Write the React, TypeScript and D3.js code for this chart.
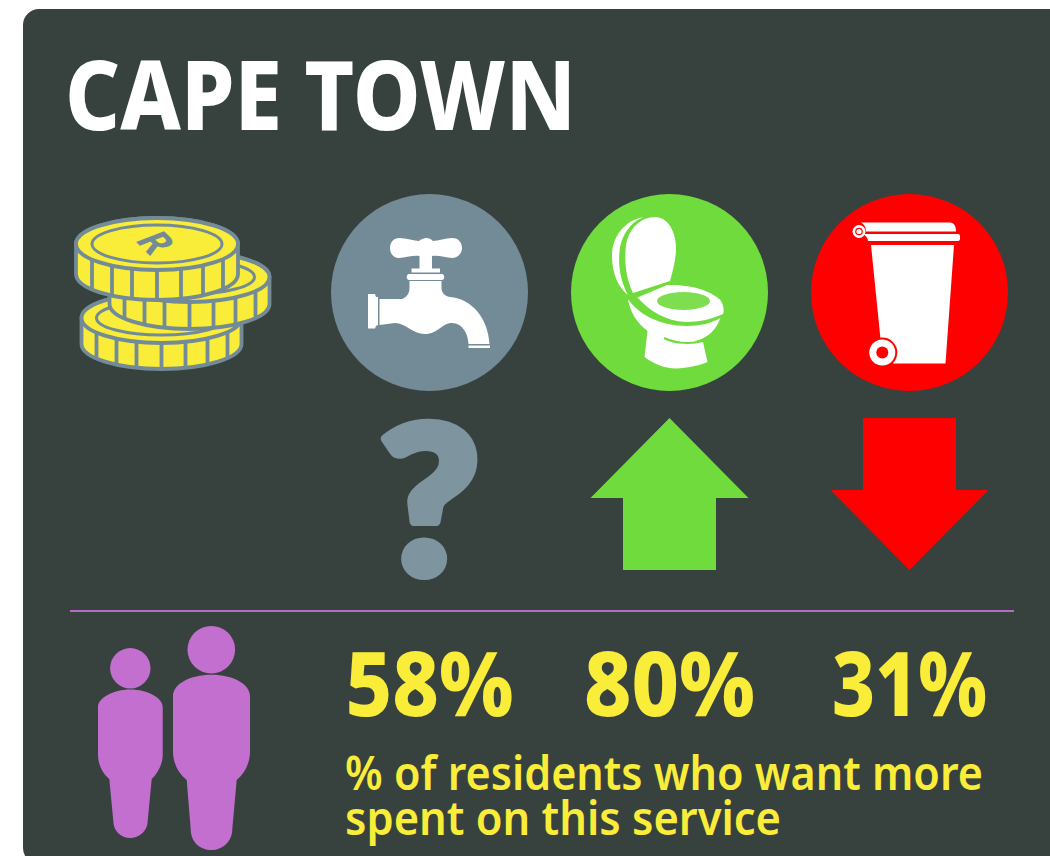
import React from "react";
import * as d3 from "d3";

const services = ["water", "sanitation", "refuse"];
const shares = [58, 80, 31];
const directions = ["unknown", "up", "down"];
const title = "CAPE TOWN";
const captionLines = ["% of residents who want more", "spent on this service"];

const PANEL = "#37423f";
const STEEL = "#738b96";
const GREEN = "#70db3c";
const RED = "#ff0000";
const PURPLE = "#c36fcf";
const YELLOW = "#f9ed3a";
const FONT = "'Noto Sans', 'Open Sans', sans-serif";

const x = d3.scalePoint<string>().domain(services).range([429.5, 909.5]);
const shareWidths = [168, 171, 155];

function Coin({ cx, cy, rx, ry, h, ridges, inner }: any) {
  const body = `M${cx - rx},${cy} L${cx - rx},${cy + h} A${rx},${ry} 0 0 0 ${cx + rx},${cy + h} L${cx + rx},${cy} A${rx},${ry} 0 0 0 ${cx - rx},${cy} Z`;
  return (
    <g fill={YELLOW} stroke={STEEL} strokeWidth={3.8}>
      <path d={body} strokeLinejoin="round" />
      {ridges.map((o: number) => {
        const y = cy + ry * Math.sqrt(1 - (o / rx) ** 2);
        return <line key={o} x1={cx + o} x2={cx + o} y1={y} y2={y + h} />;
      })}
      <ellipse cx={cx} cy={cy} rx={rx} ry={ry} />
      {inner && <ellipse cx={cx} cy={cy} rx={inner[0]} ry={inner[1]} strokeWidth={3} />}
    </g>
  );
}

const ridgeOffsets = [-65, -45, -25, 0, 24, 46, 66];

const tapPath =
  "M399,238 C407,238 414,241 419,241 C422,238 429,236 433,241 C438,241 446,238 452,238 C459,238 462,243 462,248 C462,254 457,258 452,258 C446,258 439,255 432,256 L432,268.5 L440,268.5 L440,272.5 L411.5,272.5 L411.5,268.5 L419.5,268.5 L419.5,256 C413,255 405,258 399,258 C394,258 390,254 390,248 C390,242 394,238 399,238 Z " +
  "M409,274 L442,274 C445,274 445,280 442,280 L409,280 C406,280 406,274 409,274 Z " +
  "M409.5,281 L441.5,281 L441.5,288 C441.5,292 444,296 450,297 C472,299 488,318 489.5,344 L468.5,344 C468,333 462,323 452,323 C442,323 438,334 425,334 C412,334 406,323 395,323 L379.5,325 L379.5,299 L402,299 C407,297 409.5,293 409.5,288 Z " +
  "M368,294 L375,294 L376,297 L378,297 L378,325 L376,326 L375,328.5 L368,328.5 Z " +
  "M468.5,345.5 L490,345.5 L490,348 L468.5,348 Z";

const toiletLid = "M633,293 C626,278 624,262 626,245 C629,228 641,217 655,217 C668,217 676,232 676,248 C676,260 673,270 670,281 Z";
const toiletCrescent = "M644,217 C625,220 612,236 612,256 C612,273 618,287 628,295 C621,282 618,268 619.5,252 C621,236 630,222 644,217 Z";
const toiletSeat = "M637.5,297.5 L667,285 C690,284 713,291 721,301 C724,306 724,312 723,314 C712,319 700,322 686,322 C665,321 650,311 637.5,297.5 Z";
const toiletBowl = "M628,299 C638,314 660,326 687,326 C700,326 712,323 720.5,318 C716,330 708,338 695,341 C690,343 675,342 665,339 L703,342 L707.5,362 C697,366 688,368 676,368.5 C664,368.5 652,363 644.5,357 L647.5,331 C637,323 630,312 628,299 Z";
const toiletGap = "M664,338 C676,344 692,344 703,341";

const binLid = "M861,222.5 L950,222.5 C954,222.5 956,226 956,231.5 L866,231.5 C866,227 864,224 861,222.5 Z";
const binRim = "M863,234 L958,234 C960,234 960,236 960,237 L960,239 C960,240 959,241 958,241 L868,241 C868,238 866,236 863,234 Z";
const binBody = "M871,245 L954,245 L945.5,363.5 L893,363.5 C897,350 892,339 880.5,339 Z";

const smallBody = "M130.3,689.5 C148,689.5 162.7,698 162.7,707 L162.7,755 C162.7,764 158,773 151.7,779 L147.7,821 C147.7,831 139,838 130.3,838 C121,838 113.3,831 113.3,821 L109.3,779 C102,773 98,764 98,755 L98,707 C98,698 113,689.5 130.3,689.5 Z";
const largeBody = "M211.5,674.7 C233,674.7 250,684 250,696 L250,751 C250,763 245,773 236.7,780 L232.3,829 C232.3,842 222,850 211.5,850 C200,850 190.7,842 190.7,829 L186.7,780 C178,773 173,763 173,751 L173,696 C173,684 190,674.7 211.5,674.7 Z";

function arrowPath(dir: string, cx: number) {
  const top = 418, bottom = 570, half = 79, stem = 46.5, wingOff = 80;
  if (dir === "up")
    return `M${cx},${top} L${cx + half},${top + wingOff} L${cx + stem},${top + wingOff} L${cx + stem},${bottom} L${cx - stem},${bottom} L${cx - stem},${top + wingOff} L${cx - half},${top + wingOff} Z`;
  return `M${cx},${bottom} L${cx + half},${bottom - wingOff} L${cx + stem},${bottom - wingOff} L${cx + stem},${top} L${cx - stem},${top} L${cx - stem},${bottom - wingOff} L${cx - half},${bottom - wingOff} Z`;
}

export default function App() {
  const circleFill = [STEEL, GREEN, RED];
  return (
    <svg width={1050} height={856} viewBox="0 0 1050 856" style={{ position: "absolute", left: 0, top: 0, display: "block" }}>
      <rect x={0} y={0} width={1050} height={856} fill="#ffffff" />
      <rect x={23} y={9} width={1100} height={855} rx={16} fill={PANEL} />

      <text x={65} y={130} fontFamily={FONT} fontWeight={800} fontSize={96} fill="#ffffff" textLength={511} lengthAdjust="spacingAndGlyphs">
        {title}
      </text>

      <Coin cx={161.5} cy={318} rx={80} ry={25} h={26} ridges={ridgeOffsets} inner={[65, 17]} />
      <Coin cx={189.5} cy={277} rx={80} ry={25} h={27} ridges={ridgeOffsets} inner={[65, 17]} />
      <Coin cx={157} cy={244} rx={81} ry={26} h={30} ridges={ridgeOffsets} inner={[65, 19]} />
      <text transform="translate(134,240) scale(1,0.62) rotate(58)" fontFamily={FONT} fontWeight={700} fontSize={46} fill={STEEL}>
        R
      </text>

      {services.map((s, i) => (
        <circle key={s} cx={x(s)} cy={292.5} r={98.5} fill={circleFill[i]} />
      ))}

      <path d={tapPath} fill="#ffffff" />

      <g fill="#ffffff">
        <path d={toiletLid} />
        <path d={toiletCrescent} />
        <path d={toiletSeat} />
        <path d={toiletBowl} />
      </g>
      <ellipse cx={683.5} cy={301} rx={26.5} ry={9} fill="#7ede50" />
      <path d={toiletGap} fill="none" stroke={GREEN} strokeWidth={2} />

      <g fill="#ffffff">
        <path d={binLid} />
        <path d={binRim} />
        <path d={binBody} />
      </g>
      <circle cx={859} cy={231.5} r={6.5} fill="#ffffff" />
      <circle cx={859} cy={231.5} r={3.2} fill="none" stroke={RED} strokeWidth={1.2} />
      <circle cx={882.3} cy={352.5} r={15} fill={RED} />
      <circle cx={882.3} cy={352.5} r={13} fill="#ffffff" />
      <circle cx={882.3} cy={352.5} r={6} fill={RED} />

      {directions.map((d, i) =>
        d === "unknown" ? (
          <text key={d} transform={`translate(${x(services[i])!},574) scale(1.06,1)`} textAnchor="middle" fontFamily="Lato, sans-serif" fontWeight={900} fontSize={205} fill="#7e959f" stroke="#7e959f" strokeWidth={10} strokeLinejoin="round">
            ?
          </text>
        ) : (
          <path key={d} d={arrowPath(d, x(services[i])!)} fill={d === "up" ? GREEN : RED} />
        )
      )}

      <line x1={70} x2={1014} y1={611} y2={611} stroke="#b66cc2" strokeWidth={2} />

      <circle cx={130.3} cy={668.3} r={20.2} fill={PURPLE} />
      <path d={smallBody} fill={PURPLE} />
      <circle cx={211.3} cy={649.7} r={23.8} fill={PURPLE} />
      <path d={largeBody} fill={PURPLE} />

      {services.map((s, i) => (
        <text key={s} x={x(s)} y={716} textAnchor="middle" fontFamily={FONT} fontWeight={800} fontSize={90} fill={YELLOW} textLength={shareWidths[i]} lengthAdjust="spacingAndGlyphs">
          {`${shares[i]}%`}
        </text>
      ))}

      <text fontFamily={FONT} fontWeight={600} fontSize={46} fill={YELLOW}>
        <tspan x={345} y={790} textLength={638} lengthAdjust="spacingAndGlyphs">{captionLines[0]}</tspan>
        <tspan x={345} y={835} textLength={436} lengthAdjust="spacingAndGlyphs">{captionLines[1]}</tspan>
      </text>
    </svg>
  );
}
